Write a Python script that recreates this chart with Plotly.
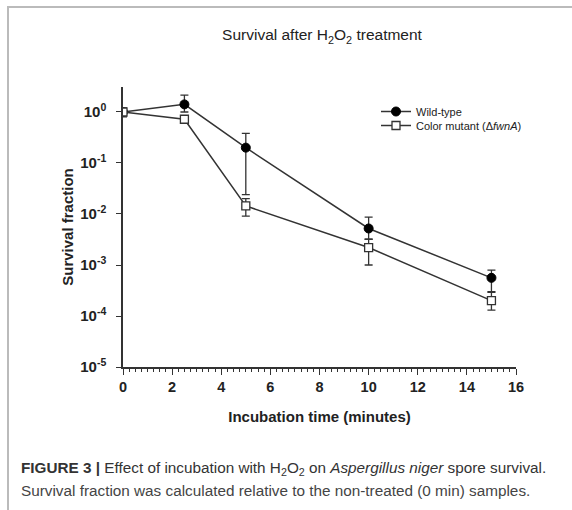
import plotly.graph_objects as go

# Data
time_min = [0, 2.5, 5, 10, 15]
wt_mean = [1.0, 1.41, 0.20, 0.0052, 5.6e-4]
wt_upper = [1.15, 2.15, 0.38, 0.0087, 7.9e-4]
wt_lower = [0.85, 1.0, 0.024, 0.0032, 3.0e-4]
mut_mean = [1.0, 0.72, 0.0144, 0.0022, 2.0e-4]
mut_upper = [1.2, 0.8, 0.020, 0.0032, 2.9e-4]
mut_lower = [0.8, 0.65, 0.0091, 0.0010, 1.3e-4]
x_ticks = [0, 2, 4, 6, 8, 10, 12, 14, 16]
y_tickvals = [1e-5, 1e-4, 1e-3, 1e-2, 1e-1, 1e0]
y_ticktext = ["10<sup>-5</sup>", "10<sup>-4</sup>", "10<sup>-3</sup>",
              "10<sup>-2</sup>", "10<sup>-1</sup>", "10<sup>0</sup>"]

LINE = "#333333"
FONT = "Liberation Sans, Arial, sans-serif"

def errs(mean, up, lo):
    return [u - m for u, m in zip(up, mean)], [m - l for m, l in zip(mean, lo)]

wt_p, wt_m = errs(wt_mean, wt_upper, wt_lower)
mu_p, mu_m = errs(mut_mean, mut_upper, mut_lower)

fig = go.Figure()
fig.add_trace(go.Scatter(
    x=time_min, y=wt_mean, mode="lines+markers", name="Wild-type", legend="legend",
    line=dict(color=LINE, width=1.5),
    marker=dict(symbol="circle", size=9, color="black", line=dict(color="black", width=1)),
    error_y=dict(type="data", symmetric=False, array=wt_p, arrayminus=wt_m,
                 color=LINE, thickness=1.3, width=4),
))
fig.add_trace(go.Scatter(
    x=time_min, y=mut_mean, mode="lines+markers", name="Color mutant (\u0394<i>fwnA</i>)",
    legend="legend2",
    line=dict(color=LINE, width=1.5),
    marker=dict(symbol="square", size=8, color="white", line=dict(color=LINE, width=1.3)),
    error_y=dict(type="data", symmetric=False, array=mu_p, arrayminus=mu_m,
                 color=LINE, thickness=1.3, width=4),
))

W, H = 572, 510
L, R, T, B = 123, 56, 87, 143
pw, ph = W - L - R, H - T - B

def px(xp):
    return (xp - L) / pw

def py(yp):
    return (H - B - yp) / ph

legend_common = dict(xanchor="left", yanchor="top", bgcolor="rgba(0,0,0,0)",
                     font=dict(size=11, color="#222222", family=FONT), itemwidth=30)

fig.update_layout(
    width=W, height=H,
    margin=dict(l=L, r=R, t=T, b=B),
    paper_bgcolor="white", plot_bgcolor="white",
    font=dict(family=FONT, color="#222222"),
    title=dict(text="Survival after H<sub>2</sub>O<sub>2</sub> treatment",
               x=px(322), xref="paper", xanchor="center",
               y=1 - 35 / H, yref="container", yanchor="middle",
               font=dict(size=15.5, color="#222222", family=FONT)),
    showlegend=True,
    legend=dict(x=px(376), y=py(97), **legend_common),
    legend2=dict(x=px(376), y=py(111), **legend_common),
    xaxis=dict(range=[0, 16], tickvals=x_ticks, ticks="outside", ticklen=6,
               tickwidth=1.3, tickcolor=LINE, showline=True, linecolor=LINE,
               linewidth=1.5, showgrid=False, zeroline=False,
               tickfont=dict(size=14.5, family=FONT, color="#222222", weight="bold"),
               minor=dict(dtick=0.25, ticks="outside", ticklen=3, tickcolor=LINE,
                          tickwidth=1, showgrid=False),
               title=dict(text="<b>Incubation time (minutes)</b>", standoff=17,
                          font=dict(size=15, family=FONT, color="#222222"))),
    yaxis=dict(type="log", range=[-5, 0.49], tickvals=y_tickvals, ticktext=y_ticktext,
               ticks="outside", ticklen=5, tickwidth=1.3, tickcolor=LINE,
               showline=True, linecolor=LINE, linewidth=1.5, showgrid=False,
               zeroline=False, ticklabelstandoff=7,
               tickfont=dict(size=15, family=FONT, color="#222222", weight="bold"),
               title=dict(text="<b>Survival fraction</b>", standoff=3,
                          font=dict(size=15, family=FONT, color="#222222"))),
)

fig.add_shape(type="rect", xref="paper", yref="paper",
              x0=px(8), x1=px(700), y0=py(7), y1=py(700),
              line=dict(color="#bbbbbb", width=2), fillcolor="rgba(0,0,0,0)", layer="below")

fig.add_annotation(xref="paper", yref="paper", x=px(19), y=py(468), xanchor="left",
                   yanchor="middle", showarrow=False, align="left",
                   text="<b>FIGURE 3 |</b> Effect of incubation with H<sub>2</sub>O<sub>2</sub> on <i>Aspergillus niger</i> spore survival.",
                   font=dict(size=15.3, family=FONT, color="#333333"))
fig.add_annotation(xref="paper", yref="paper", x=px(19), y=py(490), xanchor="left",
                   yanchor="middle", showarrow=False, align="left",
                   text="Survival fraction was calculated relative to the non-treated (0 min) samples.",
                   font=dict(size=15.3, family=FONT, color="#444444"))

fig.write_html("out.html")
